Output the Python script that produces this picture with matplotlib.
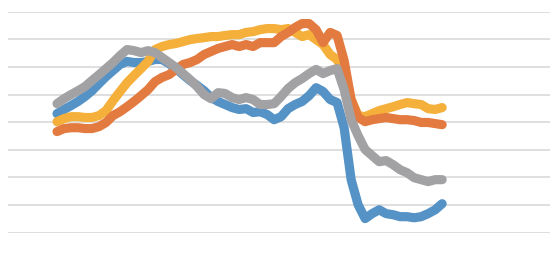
import numpy as np
import matplotlib
matplotlib.use('Agg')
import matplotlib.pyplot as plt


blue = [43.1, 44.6, 46.0, 47.5, 49.3, 51.4, 54.0, 56.5, 58.7, 60.9,
        62.0, 61.6, 61.6, 62.0, 62.7, 62.7, 61.2, 59.4, 57.2, 55.1,
        53.3, 51.4, 48.9, 47.5, 46.4, 45.3, 44.6, 44.9, 43.5, 43.8,
        42.8, 40.9, 42.0, 44.9, 46.4, 47.5, 49.6, 52.5, 51.1, 48.2,
        47.1, 38.0, 19.2, 10.1, 5.1, 6.9, 8.3, 6.9, 6.5, 5.8,
        5.8, 5.4, 5.8, 6.9, 8.3, 10.5]

orange = [36.6, 37.7, 38.0, 38.0, 37.7, 37.7, 38.4, 39.9, 42.4, 43.8,
          45.6, 47.5, 49.6, 51.8, 54.7, 56.2, 57.2, 59.1, 60.9, 61.6,
          62.7, 64.5, 65.6, 66.7, 67.4, 68.1, 67.4, 68.1, 67.4, 68.8,
          68.8, 68.8, 71.0, 72.5, 74.3, 75.7, 75.7, 73.5, 68.8, 72.5,
          71.4, 62.3, 48.2, 41.7, 40.2, 40.9, 41.3, 41.7, 41.3, 40.9,
          40.9, 40.6, 39.9, 39.9, 39.5, 39.1]

gray = [46.7, 48.5, 50.0, 51.4, 52.9, 55.1, 57.2, 59.4, 61.6, 64.1,
        66.3, 65.9, 65.2, 65.9, 65.2, 63.4, 61.6, 59.8, 57.6, 55.4,
        52.9, 50.0, 48.5, 50.7, 50.4, 48.9, 48.2, 48.9, 48.2, 46.4,
        46.4, 46.7, 49.3, 52.2, 54.3, 55.8, 57.6, 59.1, 57.6, 58.7,
        59.4, 51.8, 40.9, 35.1, 30.1, 27.9, 25.7, 26.1, 24.6, 22.8,
        21.7, 19.9, 19.2, 18.5, 19.2, 19.2]

yellow = [40.2, 41.3, 42.0, 42.0, 41.7, 41.7, 42.4, 44.2, 47.8, 51.1,
          54.3, 56.9, 59.4, 62.0, 66.3, 67.4, 68.1, 68.5, 69.2, 69.9,
          70.3, 70.6, 71.0, 71.0, 71.4, 71.7, 71.7, 72.5, 72.8, 73.5,
          73.9, 73.9, 73.5, 73.9, 72.5, 71.0, 71.7, 69.9, 68.1, 64.5,
          62.7, 57.2, 48.2, 42.4, 42.0, 43.1, 44.2, 44.9, 45.6, 46.4,
          47.1, 46.7, 46.4, 44.9, 44.6, 45.3]


def main():
    fig = plt.figure(figsize=(5.5, 2.57), dpi=100)
    ax = fig.add_axes([8 / 550, (257 - 232.7) / 257, 542 / 550, 221 / 257])

    x = np.arange(len(blue))
    style = dict(linewidth=6.6, solid_capstyle='round', solid_joinstyle='round')
    # drawing order as seen in the picture: gray on top
    ax.plot(x, blue, color='#5592C6', zorder=3, **style)
    ax.plot(x, yellow, color='#F4B03A', zorder=4, **style)
    ax.plot(x, orange, color='#E37A3F', zorder=5, **style)
    ax.plot(x, gray, color='#A2A2A4', zorder=6, **style)

    ax.set_xlim(-7, 70.4)
    ax.set_ylim(0, 80)
    ax.set_yticks(np.arange(0, 81, 10))
    ax.yaxis.grid(True, color='#D9D9D9', linewidth=1.2)
    ax.set_axisbelow(True)
    ax.tick_params(left=False, bottom=False, labelleft=False, labelbottom=False)
    for s in ax.spines.values():
        s.set_visible(False)

    fig.savefig('out.png', dpi=100)


if __name__ == '__main__':
    main()
